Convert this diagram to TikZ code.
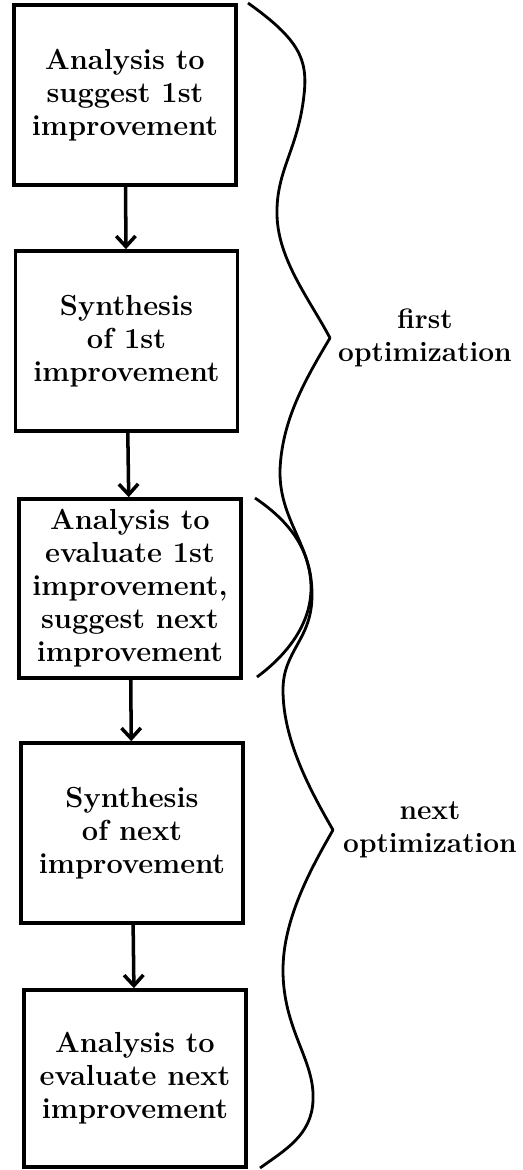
\documentclass[tikz,border=0pt]{standalone}
\usepackage{fontspec}
\usetikzlibrary{arrows.meta}

\begin{document}
\begin{tikzpicture}[x=0.02cm,y=-0.02cm,
    stage/.style={draw,line width=2.1pt,minimum width=4.44cm,
      minimum height=3.6cm,inner sep=0pt,align=center,
      font=\bfseries\fontsize{16.5}{18.8}\selectfont},
    flow/.style={line width=2pt,
      -{Straight Barb[length=6pt,width=11pt,line width=2pt]}},
    curly/.style={line width=1.6pt,line join=round},
    phase/.style={align=center,font=\bfseries\fontsize{16}{18.8}\selectfont}]
  \useasboundingbox (0,0) rectangle (523,1170);

  % the five steps, top to bottom
  \draw (125,95) node[stage] (A1) {Analysis to\\suggest 1st\\improvement};
  \draw (126.5,341) node[stage] (S1) {Synthesis\\of 1st\\improvement};
  \draw (130,588.5) node[stage,minimum height=3.58cm] (A2)
    {Analysis to\\evaluate 1st\\improvement,\\suggest next\\improvement};
  \draw (132,833) node[stage] (S2) {Synthesis\\of next\\improvement};
  \draw (135,1078.5) node[stage,minimum height=3.54cm] (A3)
    {Analysis to\\evaluate next\\improvement};

  \draw[flow] (A1)--(S1);
  \draw[flow] (S1)--(A2);
  \draw[flow] (A2)--(S2);
  \draw[flow] (S2)--(A3);

  % first brace
  \draw[curly] (248,3) .. controls (300,40) and (308,60) .. (304,95)
    .. controls (298,150) and (276,170) .. (277,215)
    .. controls (278,260) and (310,300) .. (330,338) coordinate (T1)
    .. controls (305,380) and (282,420) .. (280,470)
    .. controls (279,520) and (312,545) .. (311,590)
    .. controls (310,630) and (280,660) .. (257,677);
  % next brace
  \draw[curly] (255,498) .. controls (295,525) and (312,555) .. (312,595)
    .. controls (312,640) and (283,650) .. (283,690)
    .. controls (283,740) and (310,790) .. (333,830) coordinate (T2)
    .. controls (310,870) and (283,920) .. (283,970)
    .. controls (283,1030) and (315,1060) .. (313,1100)
    .. controls (312,1135) and (285,1150) .. (260,1168);

  \draw (425,338) node[phase] (P1) {first\\optimization};
  \draw (430,830) node[phase] (P2) {next\\optimization};
\end{tikzpicture}
\end{document}
